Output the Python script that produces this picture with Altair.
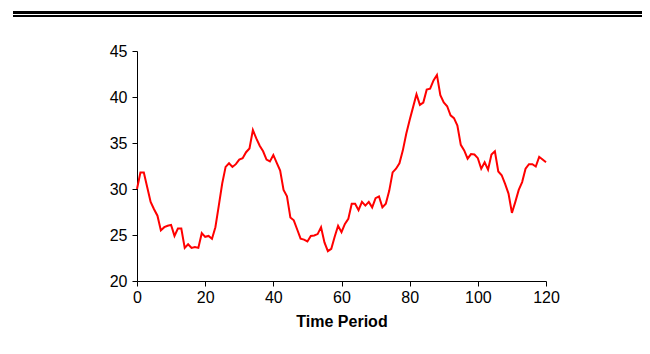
import altair as alt
import pandas as pd

time_period = list(range(0, 121))
values = [
    30.0, 31.8, 31.8, 30.2, 28.6, 27.8, 27.1, 25.5, 25.85, 26.0,
    26.1, 24.9, 25.7, 25.7, 23.6, 24.0, 23.6, 23.7, 23.6, 25.2,
    24.8, 24.9, 24.6, 25.85, 28.2, 30.6, 32.4, 32.8, 32.4, 32.7,
    33.2, 33.35, 34.0, 34.4, 36.4, 35.5, 34.7, 34.1, 33.2, 33.0,
    33.7, 32.85, 32.0, 29.9, 29.2, 26.9, 26.6, 25.6, 24.6, 24.5,
    24.3, 24.9, 24.95, 25.1, 25.85, 24.2, 23.25, 23.5, 24.8, 26.0,
    25.3, 26.2, 26.75, 28.4, 28.4, 27.7, 28.6, 28.2, 28.6, 28.0,
    29.0, 29.2, 28.0, 28.4, 29.8, 31.8, 32.2, 32.8, 34.2, 36.0,
    37.5, 38.9, 40.3, 39.15, 39.4, 40.8, 40.9, 41.8, 42.4, 40.2,
    39.4, 39.0, 38.0, 37.7, 36.9, 34.8, 34.2, 33.3, 33.8, 33.75,
    33.35, 32.2, 32.9, 32.1, 33.75, 34.1, 31.9, 31.5, 30.55, 29.5,
    27.4, 28.6, 29.9, 30.75, 32.2, 32.7, 32.7, 32.45, 33.5, 33.2,
    32.9,
]

df = pd.DataFrame({"t": time_period, "v": values})

FONT = "Liberation Sans"

line = alt.Chart(df).mark_line(color="#ff0000", strokeWidth=2).encode(
    x=alt.X(
        "t:Q",
        scale=alt.Scale(domain=[0, 120], nice=False, zero=False),
        axis=alt.Axis(
            title="Time Period",
            values=[0, 20, 40, 60, 80, 100, 120],
            grid=False,
            tickSize=5,
            labelPadding=3,
            labelFlush=False,
            titlePadding=8,
            titleFontWeight="bold",
            titleFontSize=16,
            labelFontSize=16,
        ),
    ),
    y=alt.Y(
        "v:Q",
        scale=alt.Scale(domain=[20, 45], nice=False, zero=False),
        axis=alt.Axis(
            title=None,
            values=[20, 25, 30, 35, 40, 45],
            grid=False,
            tickSize=5,
            labelPadding=5,
            labelFlush=False,
            labelFontSize=16,
        ),
    ),
)

rule_top = alt.Chart(df).mark_rule(color="black", strokeWidth=2).encode(
    x=alt.value(-124), x2=alt.value(505), y=alt.value(-38.5)
)
rule_bottom = alt.Chart(df).mark_rule(color="black", strokeWidth=2).encode(
    x=alt.value(-124), x2=alt.value(505), y=alt.value(-35)
)

chart = (
    alt.layer(line, rule_top, rule_bottom)
    .properties(
        width=409,
        height=230,
        autosize=alt.AutoSizeParams(type="none"),
        padding={"left": 129, "top": 43, "right": 96, "bottom": 60},
        background="white",
    )
    .configure_view(stroke=None)
    .configure_axis(
        domainColor="black",
        tickColor="black",
        labelColor="black",
        titleColor="black",
        labelFont=FONT,
        titleFont=FONT,
        domainWidth=1,
        tickWidth=1,
    )
)

chart.save("out.html", embed_options={"renderer": "svg", "actions": False})
